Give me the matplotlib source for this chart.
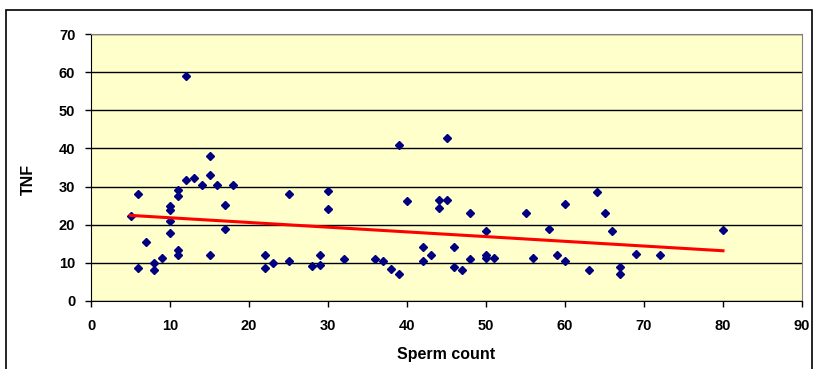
import numpy as np
import matplotlib.pyplot as plt
from matplotlib.patches import Rectangle

# values
sperm_count = [5, 6, 6, 7, 8, 8, 9, 10, 10, 10, 10, 11, 11, 11, 11, 12, 12, 13, 14,
               15, 15, 15, 16, 17, 17, 18, 22, 22, 23, 25, 25, 28, 29, 29, 30, 30,
               32, 36, 37, 38, 39, 39, 40, 42, 42, 43, 44, 44, 45, 45, 46, 46, 47,
               48, 48, 50, 50, 50, 51, 55, 56, 58, 59, 60, 60, 63, 64, 65, 66, 67,
               67, 69, 72, 80]
tnf = [22.4, 28.1, 8.7, 15.4, 10, 8, 11.2, 24.8, 23.9, 21, 17.7, 29, 27.6, 13.4, 12,
       58.9, 31.6, 32.2, 30.3, 38, 33.1, 12, 30.3, 25.2, 19, 30.3, 12, 8.7, 10, 28.1,
       10.5, 9.2, 12, 9.5, 28.9, 24, 11, 11, 10.5, 8.3, 40.8, 7, 26.3, 14.1, 10.5, 12,
       26.5, 24.5, 42.8, 26.5, 14.1, 9, 8, 23, 11, 18.4, 12, 11.4, 11.2, 23, 11.2, 19,
       12, 25.3, 10.5, 8, 28.5, 23, 18.4, 8.8, 7, 12.3, 12, 18.7]

x_ticks = list(range(0, 91, 10))
y_ticks = list(range(0, 71, 10))

plt.rcParams['font.family'] = ['Liberation Sans', 'DejaVu Sans']

fig = plt.figure(figsize=(8.13, 3.69), dpi=100)
ax = fig.add_axes([91 / 813, 1 - 301 / 369, 711 / 813, 267 / 369])

# outer chart border
fig.patches.append(Rectangle((6 / 813, -0.1), 806 / 813, 1.1 - 10 / 369,
                             transform=fig.transFigure, fill=False,
                             edgecolor='black', linewidth=1.2))

ax.set_facecolor('#FFFFCC')
ax.set_axisbelow(True)
ax.yaxis.grid(True, color='black', linewidth=1)
for side in ['top', 'right']:
    ax.spines[side].set_color('#808080')
for side in ['left', 'bottom']:
    ax.spines[side].set_color('black')

ax.plot(sperm_count, tnf, linestyle='none', marker='D', markersize=4.3,
        color='#000080', zorder=3)

# linear trend line, as Excel draws it
slope, intercept = np.polyfit(sperm_count, tnf, 1)
tx = np.array([min(sperm_count), max(sperm_count)])
ax.plot(tx, slope * tx + intercept, color='#FF0000', linewidth=2.2, zorder=4)

ax.set_xlim(0, 90)
ax.set_ylim(0, 70)
ax.set_xticks(x_ticks)
ax.set_yticks(y_ticks)
ax.tick_params(direction='out', length=4.3, width=1, labelsize=10.5)
for lbl in ax.get_xticklabels() + ax.get_yticklabels():
    lbl.set_fontweight('bold')
ax.tick_params(axis='x', pad=9)
ax.tick_params(axis='y', pad=7)

ax.set_xlabel('Sperm count', fontsize=11.5, fontweight='bold')
ax.set_ylabel('TNF', fontsize=11.5, fontweight='bold')
ax.xaxis.set_label_coords(0.5, -0.172)
ax.yaxis.set_label_coords(-0.078, 0.457)

plt.savefig('out.png', dpi=100)
